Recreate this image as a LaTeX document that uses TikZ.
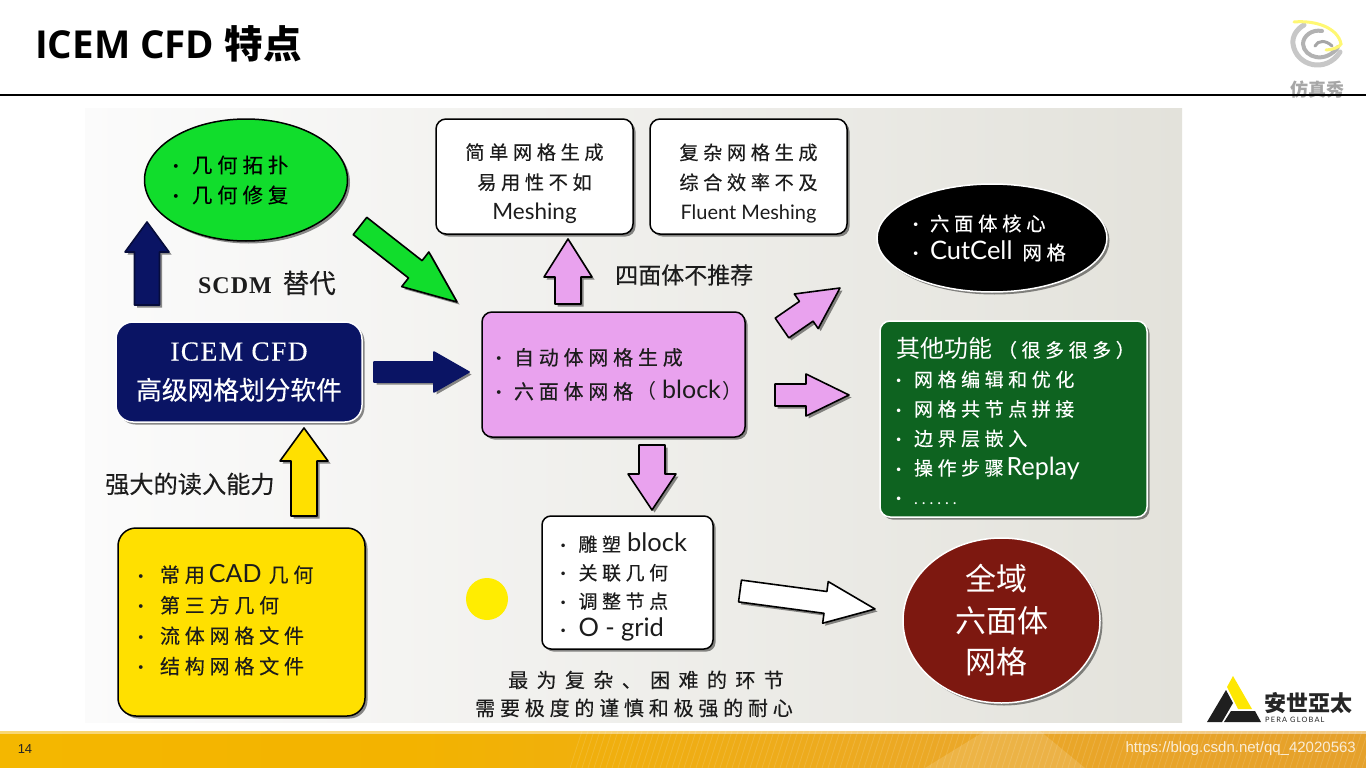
\documentclass[tikz,border=0pt]{standalone}
\usepackage{fontspec}
\usetikzlibrary{calc,shapes.geometric,shadows}
\setmainfont{Noto Sans CJK SC}
\newfontfamily\cnf{Noto Sans CJK SC}
\newfontfamily\cnm[FakeBold=0.3]{Noto Sans CJK SC}
\newfontfamily\cns[LetterSpace=24,FakeBold=0.25]{Noto Sans CJK SC}
\newfontfamily\cnw[LetterSpace=42,FakeBold=0.25]{Noto Sans CJK SC}
\newfontfamily\cntc{Noto Sans CJK TC}
\newfontfamily\latf{Lato}
\newfontfamily\lats[LetterSpace=25]{Lato}
\newfontfamily\titlef{Open Sans}
\newfontfamily\serf{Liberation Serif}
\newfontfamily\serb[LetterSpace=5,FakeBold=0.3]{Liberation Serif}
\newfontfamily\arialf{Liberation Sans}
\definecolor{navyb}{HTML}{0A1464}
\definecolor{pinkb}{HTML}{E9A2EE}
\definecolor{greenb}{HTML}{11DD2C}
\definecolor{dgreen}{HTML}{0E6320}
\definecolor{yellowb}{HTML}{FFE000}
\definecolor{dred}{HTML}{7D1810}
\definecolor{inkc}{HTML}{1C1C1C}
\definecolor{bandA}{HTML}{F6BE00}
\definecolor{bandB}{HTML}{F3B300}
\definecolor{bandC}{HTML}{EBA828}
\definecolor{bandD}{HTML}{DC9430}
\definecolor{bgL}{HTML}{FBFBFB}
\definecolor{bgR}{HTML}{E3E2DB}
\pgfdeclarehorizontalshading{bandshade}{100bp}{color(0bp)=(bandA); color(40bp)=(bandB); color(60bp)=(bandC); color(100bp)=(bandD)}
\newcommand\fs[2]{\fontsize{#1}{#2}\selectfont}
\tikzset{
 sdw/.style={drop shadow={shadow xshift=2.5pt,shadow yshift=-2.5pt,opacity=.45,fill=black}},
 shapebox/.style={rectangle,rounded corners=#1,inner ysep=0pt,inner xsep=0pt,sdw,align=left,text=inkc},
 shapeell/.style={ellipse,inner ysep=0pt,inner xsep=-12pt,sdw,align=left},
 blk/.style={draw=black,line width=1.5pt},
 wht/.style={draw=white,line width=1.5pt},
 arr/.style={line join=round,line width=1.6pt,draw=#1,sdw},
 plain/.style={inner sep=0pt,text=inkc},
}
\newcommand\itm[1]{\makebox[#1][l]{\latf\bfseries ·}}
\newcommand\topup[1]{\rule{0pt}{#1}}
\newcommand\botdn[1]{\rule[-#1]{0pt}{#1}}
\newcommand\blockarrow[7]{%
 \coordinate (#1s) at #3; \coordinate (#1t) at #4;
 \coordinate (#1n) at ($(#1t)!#7!(#1s)$);
 \draw[#2] ($(#1s)!#5!90:(#1t)$) -- ($(#1n)!#5!90:(#1t)$) -- ($(#1n)!#6!90:(#1t)$) -- (#1t) -- ($(#1n)!#6!-90:(#1t)$) -- ($(#1n)!#5!-90:(#1t)$) -- ($(#1s)!#5!-90:(#1t)$) -- cycle;
}
\begin{document}
\begin{tikzpicture}[x=1pt,y=-1pt]
\useasboundingbox (0,0) rectangle (1366,768);
\fill[white] (0,0) rectangle (1366,768);
% picture background
\fill[left color=bgL,right color=bgR] (85,108) rectangle (1182,722);
% title
\node[plain,anchor=base west,text=black] (title) at (35,59) {\fs{38.5}{40}\titlef\bfseries ICEM CFD \cnf\bfseries 特点};
% swirl logo
\begin{scope}
 \draw[black!22,line width=5pt,line cap=round] (1340,52) .. controls (1326,74) and (1296,66) .. (1293,44) .. controls (1292,36) and (1297,29) .. (1304,25);
 \draw[black!30,line width=4pt,line cap=round] (1338,47) .. controls (1326,64) and (1304,58) .. (1303,44) .. controls (1303,36) and (1312,29) .. (1322,31);
 \draw[black!35,line width=3pt,line cap=round] (1315,46) .. controls (1318,40) and (1326,40) .. (1332,46);
 \draw[yellow!55!white,line width=3pt,line cap=round] (1294,22) .. controls (1316,20) and (1338,28) .. (1341,44) .. controls (1340,47) and (1332,50) .. (1326,50);
 \node[plain,text=black!35] (sim) at (1317,90) {\fs{18}{18}\cnf\bfseries 仿真秀};
\end{scope}
\draw[black,line width=1.8pt] (0,95) -- (1366,95);
% footer band
\shade[shading=bandshade] (0,731) rectangle (1366,768);
\begin{scope}
 \clip (570,731) rectangle (1366,768);
 \foreach \xx in {570,576,...,1400} \draw[white,opacity=.13,line width=.8pt] (\xx,768) -- (\xx+12,731);
 \fill[white,opacity=.14] (925,768) -- (985,731) -- (1040,731) -- (1085,768) -- cycle;
\end{scope}
\fill[white,opacity=.45] (0,731) rectangle (1366,733.5);
\node[plain,text=black!85] (pagenum) at (25,749.5) {\fs{13}{13}\arialf 14};
\node[plain,anchor=east,text=white,opacity=.8] (wm) at (1356,749) {\fs{15}{15}\arialf https://blog.csdn.net/qq\_42020563};
% company logo
\fill[yellow!90!orange] (1233,676) -- (1227,687) -- (1238,709) -- (1252,709) -- cycle;
\fill[black!88] (1207,722) -- (1226,690) -- (1233,703) -- (1222,722) -- cycle;
\fill[black!88] (1224,722) -- (1261,722) -- (1255,711) -- (1231,711) -- cycle;
\node[plain,anchor=west,text=black!85] (lg1) at (1264,703) {\fs{22}{22}\cntc\bfseries 安世亞太};
\node[plain,anchor=west,text=black!85] (lg2) at (1265,720) {\fs{7.4}{8}\latf\addfontfeature{LetterSpace=16} PERA GLOBAL};

% ===== shapes
\node[shapeell,blk,fill=greenb,minimum width=203pt,minimum height=122pt,text width=146pt,font=\fs{20.4}{30}] (geom) at (246,180)
 {\itm{19pt}{\cns 几何拓扑}\\\itm{19pt}{\cns 几何修复}};
\node[shapebox=17pt,wht,fill=navyb,minimum width=246pt,minimum height=100pt,align=center,text=white,font=\fs{24}{39}] (icem) at (239,372)
 {{\serb\fs{27.5}{39}ICEM CFD}\\{\fs{25.7}{39}\cnm 高级网格划分软件}};
\node[shapebox=18pt,blk,fill=yellowb,minimum width=247pt,minimum height=188pt,text width=207pt,font=\fs{20}{30.5}] (cad) at (241.5,622)
 {\itm{22pt}{\cns 常用}{\latf\fs{25}{30.5}\,CAD\hspace{7pt}}{\cns 几何}\\\itm{22pt}{\cns 第三方几何}\\\itm{22pt}{\cns 流体网格文件}\\\itm{22pt}{\cns 结构网格文件}\botdn{6pt}};
\node[shapebox=10pt,blk,fill=pinkb,minimum width=263pt,minimum height=125pt,text width=235pt,font=\fs{20}{34}] (auto) at (613.5,374.5)
 {\mbox{\itm{18pt}{\cns 自动体网格生成}}\\\mbox{\itm{18pt}{\cns 六面体网格}\hspace{3pt}{\cnf （}\hspace{6pt}{\latf\fs{25}{34}block}\hspace{2pt}{\cnf ）}}};
\node[shapebox=10pt,blk,fill=white,minimum width=197pt,minimum height=115pt,align=center,font=\fs{19.2}{30}] (simple) at (534.5,176.5)
 {\topup{30pt}{\cns 简单网格生成}\\{\cns 易用性不如}\\{\latf\fs{22.5}{30}Meshing}};
\node[shapebox=10pt,blk,fill=white,minimum width=197pt,minimum height=115pt,align=center,font=\fs{19.2}{30}] (complex) at (748.5,176.5)
 {\topup{30pt}{\cns 复杂网格生成}\\{\cns 综合效率不及}\\{\latf\fs{20}{30}Fluent Meshing}};
\node[shapebox=9pt,blk,fill=white,minimum width=171pt,minimum height=133pt,text width=134pt,font=\fs{19}{28.5}] (sculpt) at (627.5,582.5)
 {\topup{28pt}\itm{18pt}{\cns 雕塑}\hspace{6pt}{\latf\fs{25.5}{28.5}block}\\\itm{18pt}{\cns 关联几何}\\\itm{18pt}{\cns 调整节点}\\\itm{18pt}{\latf\fs{25.5}{28.5}O - grid}};
\node[shapeell,wht,fill=black,text=white,minimum width=230pt,minimum height=108pt,text width=158pt,font=\fs{19.4}{29}] (cutcell) at (992,238)
 {\itm{17pt}{\cns 六面体核心}\\\itm{17pt}{\latf\fs{25.5}{29}CutCell}\hspace{10pt}{\cns\fs{19.4}{29}网格}};
\node[shapebox=10pt,wht,fill=dgreen,text=white,minimum width=267pt,minimum height=196pt,text width=235pt,font=\fs{19}{29.5}] (other) at (1013.5,419)
 {\topup{24pt}{\fs{24}{33}\cnf 其他功能}\hspace{6pt}{\cns\fs{19}{29.5}（很多很多）}\\\itm{18pt}{\cns 网格编辑和优化}\\\itm{18pt}{\cns 网格共节点拼接}\\\itm{18pt}{\cns 边界层嵌入}\\\itm{18pt}{\cns 操作步骤}\hspace{3pt}{\latf\fs{25}{29.5}Replay}\\\itm{18pt}{\lats\fs{16}{29.5}......}};
\node[ellipse,inner sep=-30pt,wht,fill=dred,text=white,minimum width=197pt,minimum height=165pt,sdw,align=center,font=\fs{31}{41.5}] (full) at (1001.5,620.5)
 {\cnf 全域\hspace*{11pt}\\\cnf 六面体\hspace*{11pt}\\\cnf 网格\hspace*{11pt}};
\node[circle,fill=yellow!95!orange,minimum size=42pt,inner sep=0pt] (dot) at (487,599) {};

% ===== block arrows
\blockarrow{aup}{arr=navyb!60!black,fill=navyb}{(147,305)}{(147,222)}{12.5pt}{22pt}{30pt}
\blockarrow{agr}{arr=black,fill=greenb}{(360,226)}{(457,302)}{11pt}{22pt}{53pt}
\blockarrow{art}{arr=navyb,fill=navyb}{(374,372)}{(469,372)}{10pt}{20pt}{35pt}
\blockarrow{ayl}{arr=black,fill=yellowb}{(304,516)}{(304,428)}{13pt}{24pt}{33pt}
\blockarrow{apu}{arr=black,fill=pinkb}{(568,304)}{(568,239)}{13pt}{24pt}{38pt}
\blockarrow{apr}{arr=black,fill=pinkb}{(782,328)}{(840,288)}{12pt}{21pt}{41pt}
\blockarrow{apf}{arr=black,fill=pinkb}{(775,395)}{(849,395)}{11pt}{21pt}{43pt}
\blockarrow{apd}{arr=black,fill=pinkb}{(652,445)}{(652,510)}{13pt}{24pt}{36pt}
\blockarrow{awh}{arr=black,fill=white}{(740,591)}{(875,609)}{11pt}{21pt}{50pt}

% ===== free labels
\node[plain,anchor=west] (scdm) at (198,283) {{\serf\bfseries\addfontfeature{LetterSpace=4}\fs{24}{24}SCDM}\hspace{11pt}{\fs{26.5}{26}\cnm 替代}};
\node[plain,anchor=west] (tet) at (615,275) {\fs{23}{23}\cnm 四面体不推荐};
\node[plain,anchor=west] (read) at (105,484) {\fs{24.2}{24}\cnm 强大的读入能力};
\node[plain,align=center,font=\fs{20}{28}] (hard) at (634,694) {\hspace*{24pt}{\cnw 最为复杂、困难的环节}\\{\cns 需要极度的谨慎和极强的耐心}};
\end{tikzpicture}
\end{document}
